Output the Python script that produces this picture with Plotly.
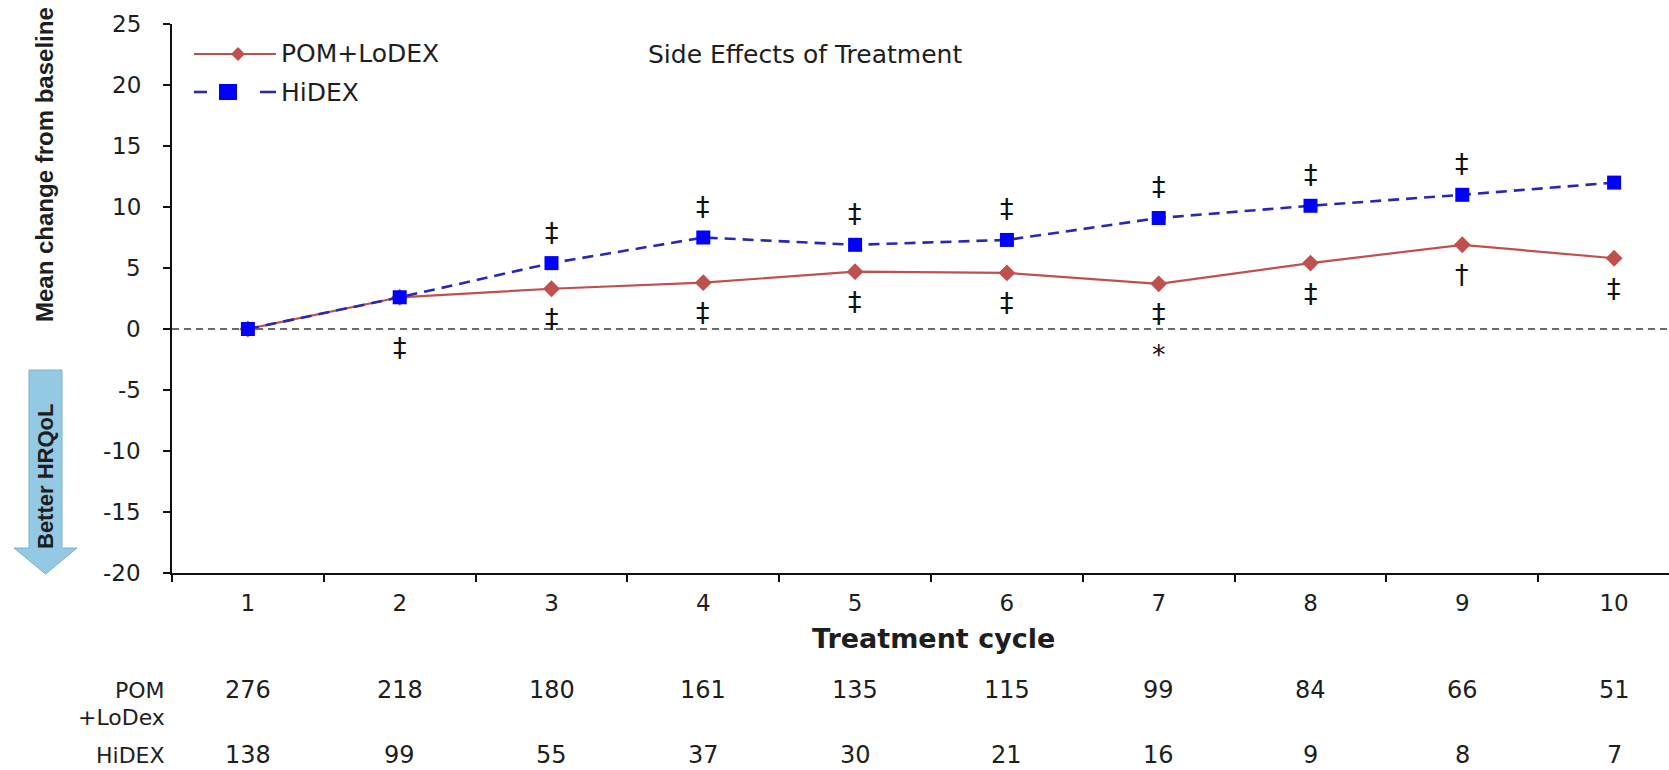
import plotly.graph_objects as go

# ---- data -------------------------------------------------------------
cycles = [1, 2, 3, 4, 5, 6, 7, 8, 9, 10]
pom_lodex = [0.0, 2.6, 3.3, 3.8, 4.7, 4.6, 3.7, 5.4, 6.9, 5.8]
hidex = [0.0, 2.6, 5.4, 7.5, 6.9, 7.3, 9.1, 10.1, 11.0, 12.0]

n_pom_lodex = [276, 218, 180, 161, 135, 115, 99, 84, 66, 51]
n_hidex = [138, 99, 55, 37, 30, 21, 16, 9, 8, 7]

# significance marks per cycle
marks_above_hidex = ["", "", "‡", "‡", "‡", "‡", "‡", "‡", "‡", ""]
marks_below_pom = ["", "", "‡", "‡", "‡", "‡", "‡", "‡", "†", "‡"]
marks_below_zero = ["", "‡", "", "", "", "", "*", "", "", ""]

y_ticks = [-20, -15, -10, -5, 0, 5, 10, 15, 20, 25]
y_tick_text = ["-20", "-15", "-10", "-5", "0", "5", "10", "15", "20", "25"]

# ---- page geometry (pixels) ------------------------------------------
W, H = 1669, 770
L, R, T, B = 172, 0, 24, 197
PW, PH = W - L - R, H - T - B


def fx(px):
    return (px - L) / PW


def fy(py):
    return (H - B - py) / PH


SANS = "DejaVu Sans"
BOLD = "Liberation Sans"
TXT = "#1e1e1e"
RED = "#c0504d"
BLUE_LINE = "#2828b4"
BLUE_MARK = "#0000ff"

fig = go.Figure()

fig.add_trace(go.Scatter(
    x=cycles, y=pom_lodex, mode="lines+markers", name="POM+LoDEX",
    line=dict(color=RED, width=2.2),
    marker=dict(symbol="diamond", size=13, color=RED),
    showlegend=False, cliponaxis=False,
))
fig.add_trace(go.Scatter(
    x=cycles, y=hidex, mode="lines+markers", name="HiDEX",
    line=dict(color=BLUE_LINE, width=2.6, dash="11px,7px"),
    marker=dict(symbol="square", size=14, color=BLUE_MARK),
    showlegend=False, cliponaxis=False,
))

shapes = []
# baseline at zero
shapes.append(dict(type="line", xref="paper", yref="y", x0=0, x1=1, y0=0, y1=0,
                   line=dict(color="#3a3a3a", width=1.6, dash="7px,5px"), layer="below"))

# legend keys
ly1, ly2 = 54, 92
shapes.append(dict(type="line", xref="paper", yref="paper",
                   x0=fx(194), x1=fx(276), y0=fy(ly1), y1=fy(ly1),
                   line=dict(color=RED, width=2.2)))
d = 7
cx = 238
shapes.append(dict(type="path", xref="paper", yref="paper",
                   path=f"M {fx(cx - d)},{fy(ly1)} L {fx(cx)},{fy(ly1 - d)} "
                        f"L {fx(cx + d)},{fy(ly1)} L {fx(cx)},{fy(ly1 + d)} Z",
                   fillcolor=RED, line=dict(color=RED, width=0)))
for a, b in [(194, 207), (260, 276)]:
    shapes.append(dict(type="line", xref="paper", yref="paper",
                       x0=fx(a), x1=fx(b), y0=fy(ly2), y1=fy(ly2),
                       line=dict(color=BLUE_LINE, width=2.6)))
shapes.append(dict(type="rect", xref="paper", yref="paper",
                   x0=fx(219), x1=fx(237), y0=fy(ly2 - 8), y1=fy(ly2 + 8),
                   fillcolor=BLUE_MARK, line=dict(width=0)))

# "Better HRQoL" arrow
arrow_pts = [(29, 370), (62, 370), (62, 548), (77, 548), (45.5, 574), (14, 548), (29, 548)]
path = "M " + " L ".join(f"{fx(px)},{fy(py)}" for px, py in arrow_pts) + " Z"
shapes.append(dict(type="path", xref="paper", yref="paper", path=path,
                   fillcolor="#93c9e2", line=dict(color="#7db0cc", width=1)))

annotations = []


def note(text, x, y, size=23, family=SANS, xanchor="center", yanchor="middle",
         xref="paper", yref="paper", angle=0, bold=False, yshift=0, color=TXT):
    annotations.append(dict(
        text=f"<b>{text}</b>" if bold else text, x=x, y=y, xref=xref, yref=yref,
        xanchor=xanchor, yanchor=yanchor, showarrow=False, textangle=angle,
        yshift=yshift, font=dict(family=family, size=size, color=color)))


note("Side Effects of Treatment", fx(805), fy(55), size=25)
note("POM+LoDEX", fx(279), fy(ly1), size=25, xanchor="left")
note("HiDEX", fx(279), fy(ly2), size=25, xanchor="left")

note("Mean change from baseline", fx(45), fy(165), size=24, family=BOLD, angle=-90, bold=True)
note("Better HRQoL", fx(45), fy(477), size=22, family=BOLD, angle=-90, bold=True)
note("Treatment cycle", fx(933), fy(638), size=27, family=SANS, bold=True)

# y tick labels, right-aligned left of the tick marks
for v, t in zip(y_ticks, y_tick_text):
    note(t, fx(143), v, size=23, xanchor="right", yref="y")

# significance marks
MARK_FONT = "DejaVu Sans"
for i, c in enumerate(cycles):
    if marks_above_hidex[i]:
        note(marks_above_hidex[i], c, hidex[i], size=27, family=MARK_FONT,
             xref="x", yref="y", yshift=31, color="#111")
    if marks_below_pom[i]:
        note(marks_below_pom[i], c, pom_lodex[i], size=27, family=MARK_FONT,
             xref="x", yref="y", yshift=-30, color="#111")
    if marks_below_zero[i]:
        shift = -25 if marks_below_zero[i] == "*" else -18
        note(marks_below_zero[i], c, 0, size=27, family=MARK_FONT,
             xref="x", yref="y", yshift=shift, color="#111")

# patients-at-risk table
note("POM", fx(167), fy(690), size=22, xanchor="right")
note("+LoDex", fx(167), fy(717), size=22, xanchor="right")
note("HiDEX", fx(167), fy(755), size=22, xanchor="right")
for c, n1, n2 in zip(cycles, n_pom_lodex, n_hidex):
    note(str(n1), c, fy(690), size=24, xref="x")
    note(str(n2), c, fy(755), size=24, xref="x")

fig.update_layout(
    width=W, height=H,
    margin=dict(l=L, r=R, t=T, b=B, pad=0),
    paper_bgcolor="white", plot_bgcolor="white",
    showlegend=False,
    shapes=shapes, annotations=annotations,
    xaxis=dict(
        range=[0.5, 0.5 + PW / 151.8], tickvals=cycles, ticktext=[str(c) for c in cycles],
        ticks="", showline=True, linecolor="#111", linewidth=2, showgrid=False, zeroline=False,
        tickfont=dict(family=SANS, size=23, color=TXT), ticklabelstandoff=8,
        minor=dict(ticks="outside", tick0=0.5, dtick=1, ticklen=7, tickwidth=2,
                   tickcolor="#111", showgrid=False),
    ),
    yaxis=dict(
        range=[-20, 25], tickvals=y_ticks, ticks="outside",
        ticklen=7, tickwidth=2, showticklabels=False,
        tickcolor="#111", showline=True, linecolor="#111", linewidth=2,
        showgrid=False, zeroline=False,
    ),
)

fig.write_html("out.html")
